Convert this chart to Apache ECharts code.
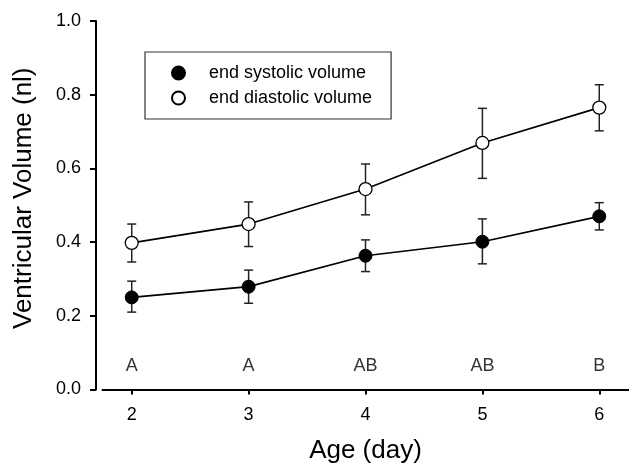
<!DOCTYPE html>
<html>
<head>
<meta charset="utf-8">
<script src="https://cdn.jsdelivr.net/npm/echarts@6/dist/echarts.min.js"></script>
<style>
  html, body { margin: 0; padding: 0; background: #fff; }
  #chart { width: 629px; height: 472px; }
</style>
</head>
<body>
<div id="chart"></div>
<script>
// 数据
var ages = [2, 3, 4, 5, 6];
var systolicMean = [0.250, 0.279, 0.363, 0.401, 0.470];
var systolicLow  = [0.210, 0.234, 0.320, 0.341, 0.433];
var systolicHigh = [0.294, 0.324, 0.406, 0.463, 0.507];
var diastolicMean = [0.398, 0.449, 0.544, 0.669, 0.765];
var diastolicLow  = [0.346, 0.388, 0.474, 0.573, 0.702];
var diastolicHigh = [0.449, 0.509, 0.612, 0.763, 0.827];
var groupLetters = ['A', 'A', 'AB', 'AB', 'B'];
var letterLevel = 0.064;

var font = 'Liberation Sans, Arial, sans-serif';

function pairs(xs, ys) {
    var out = [];
    for (var i = 0; i < xs.length; i++) out.push([xs[i], ys[i]]);
    return out;
}
function errData(xs, lo, hi) {
    var out = [];
    for (var i = 0; i < xs.length; i++) out.push([xs[i], lo[i], hi[i]]);
    return out;
}
//误差线
function renderErr(params, api) {
    var x = api.value(0);
    var lo = api.coord([x, api.value(1)]);
    var hi = api.coord([x, api.value(2)]);
    var half = 4.5;
    var style = { stroke: '#222', lineWidth: 1.5 };
    return {
        type: 'group',
        children: [
            { type: 'line', shape: { x1: lo[0], y1: lo[1], x2: hi[0], y2: hi[1] }, style: style },
            { type: 'line', shape: { x1: hi[0] - half, y1: hi[1], x2: hi[0] + half, y2: hi[1] }, style: style },
            { type: 'line', shape: { x1: lo[0] - half, y1: lo[1], x2: lo[0] + half, y2: lo[1] }, style: style }
        ]
    };
}

var letterData = [];
for (var i = 0; i < ages.length; i++) {
    letterData.push([ages[i], letterLevel, groupLetters[i]]);
}

var myChart = echarts.init(document.getElementById('chart'));
var option = {
    animation: false,
    backgroundColor: '#fff',
    textStyle: { fontFamily: font, color: '#000' },
    grid: { left: 102.5, right: 0.5, top: 21, bottom: 82.5 },
    legend: {
        left: 145,
        top: 52,
        orient: 'vertical',
        icon: 'circle',
        itemWidth: 13,
        itemHeight: 13,
        itemGap: 7,
        padding: [12, 19, 12, 26],
        borderColor: '#333',
        borderWidth: 1.2,
        borderRadius: 0,
        textStyle: { fontFamily: font, fontSize: 18, lineHeight: 18, color: '#000', padding: [0, 0, 0, 19] },
        data: ['end systolic volume', 'end diastolic volume']
    },
    xAxis: {
        type: 'value',
        min: 1.75,
        max: 6.25,
        name: 'Age (day)',
        nameLocation: 'middle',
        nameGap: 48,
        nameTextStyle: { fontFamily: font, fontSize: 26, color: '#000' },
        splitLine: { show: false },
        axisLine: { show: true, onZero: false, lineStyle: { color: '#000', width: 2 } },
        axisTick: { show: true, length: 5, lineStyle: { color: '#000', width: 2 }, customValues: ages },
        axisLabel: { fontFamily: font, fontSize: 18, color: '#000', margin: 17, customValues: ages }
    },
    yAxis: {
        type: 'value',
        min: 0,
        max: 1,
        interval: 0.2,
        offset: 6.5,
        name: 'Ventricular Volume (nl)',
        nameLocation: 'middle',
        nameGap: 59,
        nameTextStyle: { fontFamily: font, fontSize: 26, color: '#000', padding: [0, 0, 0, 14] },
        splitLine: { show: false },
        axisLine: { show: true, lineStyle: { color: '#000', width: 2 } },
        axisTick: { show: true, length: 6, lineStyle: { color: '#000', width: 2 } },
        axisLabel: {
            fontFamily: font, fontSize: 18, color: '#000', margin: 15,
            formatter: function (v) { return v.toFixed(1); }
        }
    },
    series: [
        {
            type: 'custom',
            renderItem: renderErr,
            data: errData(ages, systolicLow, systolicHigh),
            z: 1, silent: true
        },
        {
            type: 'custom',
            renderItem: renderErr,
            data: errData(ages, diastolicLow, diastolicHigh),
            z: 1, silent: true
        },
        {
            name: 'end systolic volume',
            type: 'line',
            data: pairs(ages, systolicMean),
            symbol: 'circle',
            symbolSize: 13,
            lineStyle: { color: '#000', width: 1.7 },
            itemStyle: { color: '#000', borderColor: '#000', borderWidth: 1 },
            z: 3
        },
        {
            name: 'end diastolic volume',
            type: 'line',
            data: pairs(ages, diastolicMean),
            symbol: 'circle',
            symbolSize: 13,
            lineStyle: { color: '#000', width: 1.7 },
            itemStyle: { color: '#fff', borderColor: '#000', borderWidth: 1.3 },
            z: 3
        },
        {
            type: 'scatter',
            data: letterData,
            symbolSize: 0,
            silent: true,
            label: {
                show: true,
                position: 'inside',
                fontFamily: font,
                fontSize: 18,
                color: '#000',
                formatter: function (p) { return p.value[2]; }
            }
        }
    ]
};
myChart.setOption(option);
</script>
</body>
</html>
